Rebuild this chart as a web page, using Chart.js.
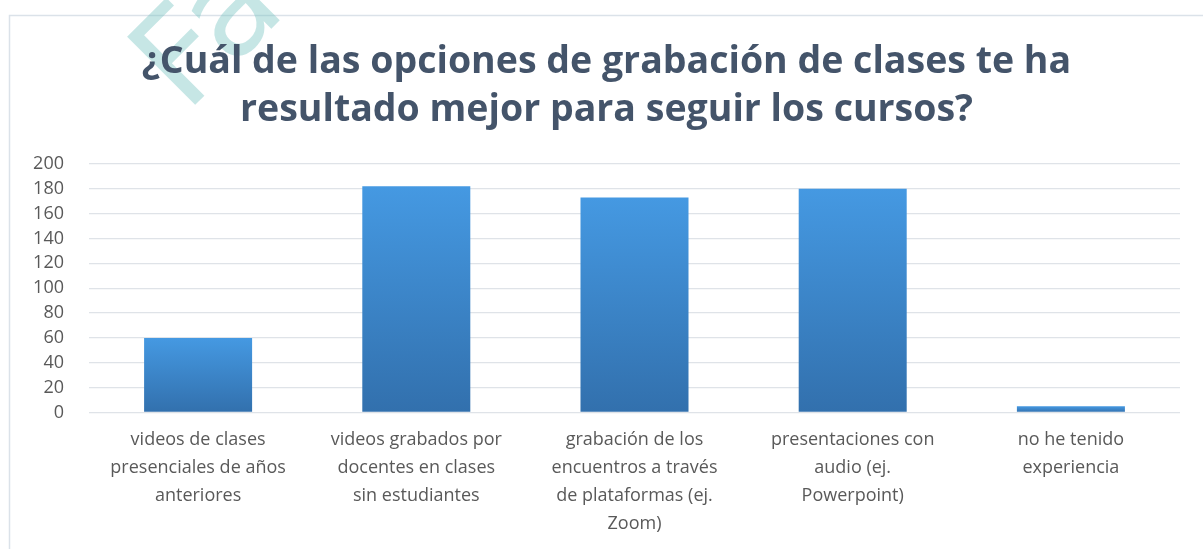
<!DOCTYPE html>
<html>
<head>
<meta charset="utf-8">
<script src="https://cdn.jsdelivr.net/npm/chart.js@4/dist/chart.umd.min.js"></script>
<style>
  html, body { margin: 0; padding: 0; background: #fff; }
  #wrap { position: relative; width: 1203px; height: 549px; overflow: hidden; }
  canvas { position: absolute; left: 0; top: 0; }
</style>
</head>
<body>
<div id="wrap"><canvas id="chart" width="1203" height="549"></canvas></div>
<script>
// ── DATOS ──────────────────────────────────────
const titulo = ['¿Cuál de las opciones de grabación de clases te ha', 'resultado mejor para seguir los cursos?'];
const categorias = [
  ['videos de clases', 'presenciales de años', 'anteriores'],
  ['videos grabados por', 'docentes en clases', 'sin estudiantes'],
  ['grabación de los', 'encuentros a través', 'de plataformas (ej.', 'Zoom)'],
  ['presentaciones con', 'audio (ej.', 'Powerpoint)'],
  ['no he tenido', 'experiencia']
];
const respuestas = [60, 182, 173, 180, 5];
const yMin = 0, yMax = 200, yPaso = 20;
const marcaAgua = 'Fa';

// ── ESTILOS ────────────────────────────────────
const GRIS_TXT  = '#595959';
const GRIS_GRID = '#dfe3e8';
const AZUL_TOP  = '#4599e2';
const AZUL_BOT  = '#3270ad';

// degradado por barra (de su tope hasta el cero)
function degradadoBarra(ctx) {
  const chart = ctx.chart;
  if (!chart.chartArea || ctx.raw == null) return AZUL_TOP;
  const y = chart.scales.y;
  const top = y.getPixelForValue(ctx.raw);
  const bot = y.getPixelForValue(0);
  if (Math.abs(bot - top) < 1) return AZUL_TOP;
  const g = chart.ctx.createLinearGradient(0, top, 0, bot);
  g.addColorStop(0, AZUL_TOP);
  g.addColorStop(1, AZUL_BOT);
  return g;
}

// marco del gráfico + marca de agua (debajo del título)
const marcoPlugin = {
  id: 'marco',
  beforeDraw(chart) {
    const c = chart.ctx;
    c.save();
    c.strokeStyle = '#dbe2e9';
    c.lineWidth = 1.5;
    c.beginPath();
    c.moveTo(9.5, 549);
    c.lineTo(9.5, 15.5);
    c.lineTo(1203, 15.5);
    c.stroke();

    c.translate(186, 114);
    c.rotate(-Math.PI / 4);
    c.font = '132px "DejaVu Sans"';
    c.fillStyle = 'rgba(120, 196, 192, 0.42)';
    c.textBaseline = 'alphabetic';
    c.fillText(marcaAgua, 0, 0);
    c.restore();
  }
};

new Chart(document.getElementById('chart'), {
  type: 'bar',
  data: {
    labels: categorias,
    datasets: [{
      data: respuestas,
      backgroundColor: degradadoBarra,
      borderWidth: 0,
      categoryPercentage: 1,
      barPercentage: 0.495
    }]
  },
  options: {
    responsive: false,
    animation: false,
    layout: { padding: { left: 33, right: 23, top: 38, bottom: -3 } },
    plugins: {
      legend: { display: false },
      tooltip: { enabled: false },
      title: {
        display: true,
        text: titulo,
        color: '#44546a',
        font: { family: '"Open Sans", sans-serif', size: 37.5, weight: 'bold', lineHeight: 1.28 },
        padding: { top: 0, bottom: 30 }
      }
    },
    scales: {
      x: {
        grid: { display: false, drawTicks: false },
        border: { display: false },
        ticks: {
          color: GRIS_TXT,
          maxRotation: 0,
          autoSkip: false,
          padding: 14,
          font: { family: '"Open Sans", sans-serif', size: 18, lineHeight: 1.55 }
        }
      },
      y: {
        min: yMin,
        max: yMax,
        afterFit(scale) { scale.width = 56; },
        grid: { color: GRIS_GRID, lineWidth: 1.3, drawTicks: false },
        border: { display: false },
        ticks: {
          stepSize: yPaso,
          autoSkip: false,
          color: GRIS_TXT,
          padding: 25,
          font: { family: '"Open Sans", sans-serif', size: 18 }
        }
      }
    }
  },
  plugins: [marcoPlugin]
});
</script>
</body>
</html>
